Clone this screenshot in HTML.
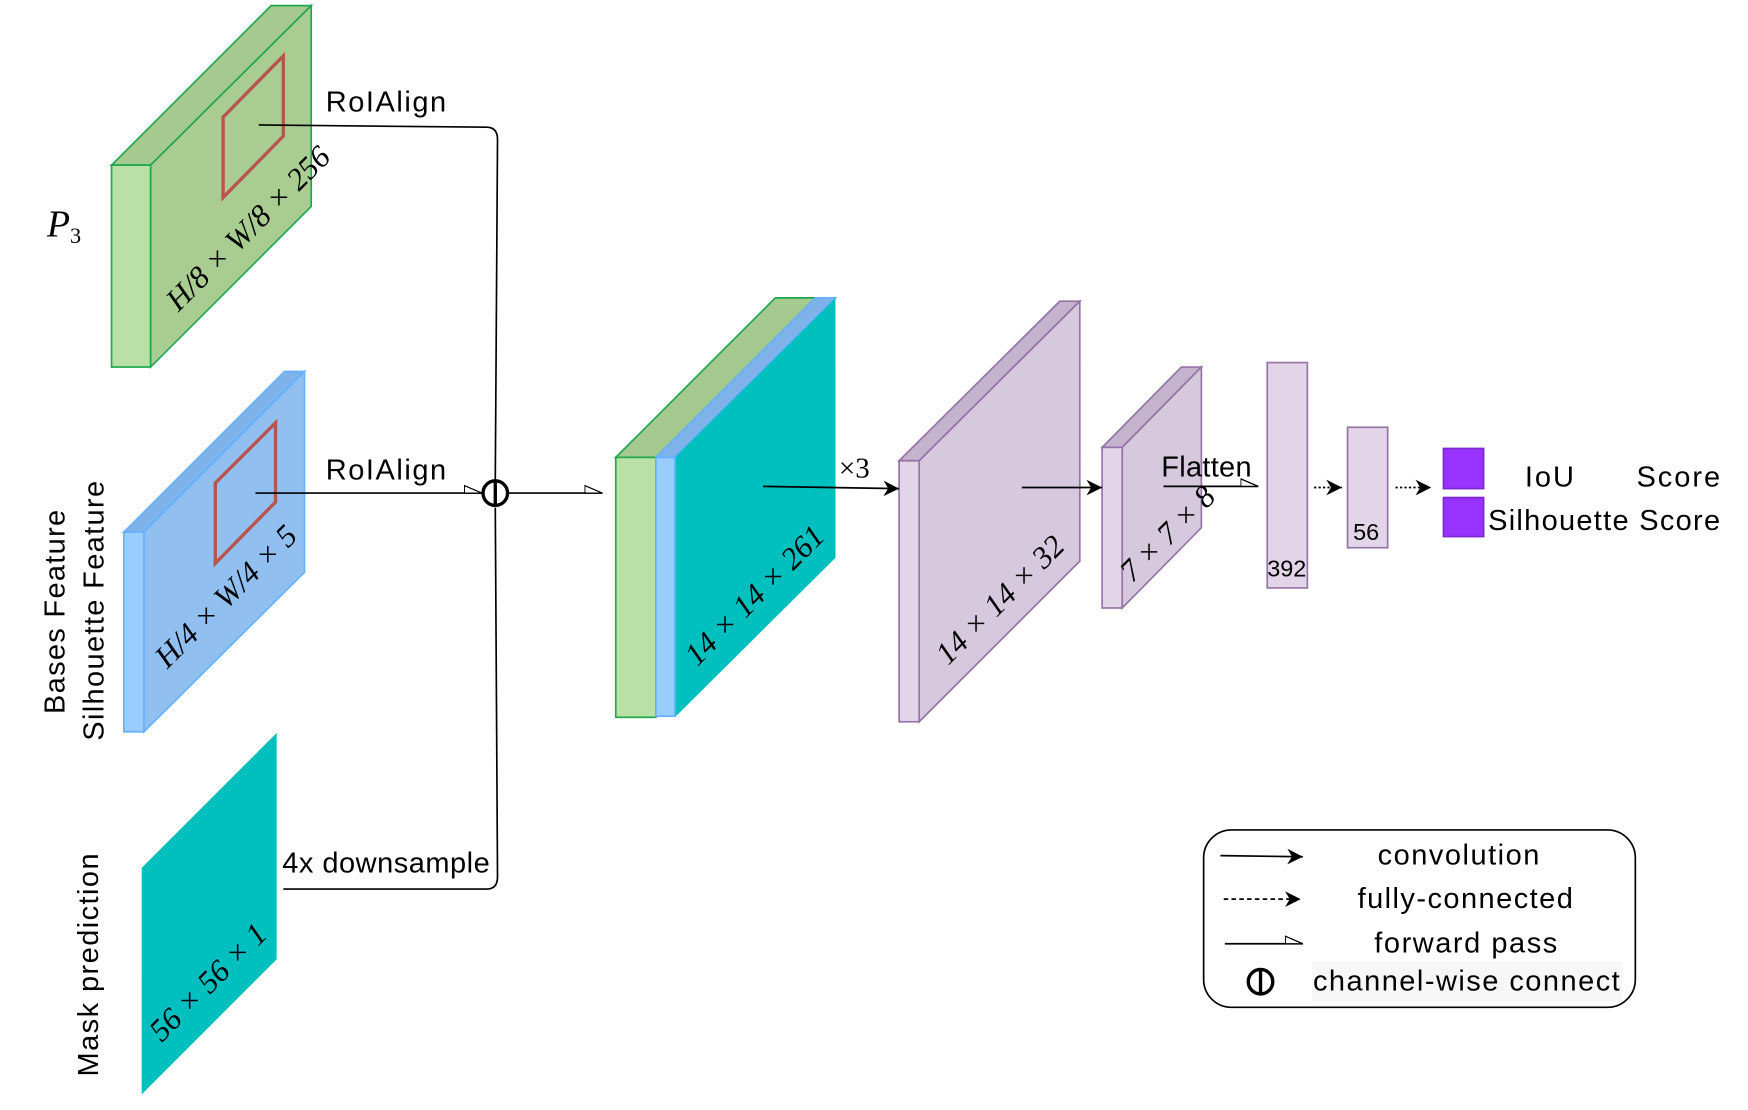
<!DOCTYPE html>
<html><head><meta charset="utf-8"><style>html,body{margin:0;padding:0;background:#fff}svg{display:block}</style></head><body>
<svg width="1748" height="1110" viewBox="0 0 1567 995" xmlns="http://www.w3.org/2000/svg" font-family="Liberation Sans, sans-serif">
<defs>
<marker id="fa" viewBox="0 0 10 10" refX="10" refY="5" markerWidth="14" markerHeight="14" orient="auto" markerUnits="userSpaceOnUse"><path d="M0,0 L10,5 L0,10 L3,5 z" fill="#000"/></marker>
<marker id="oa" viewBox="0 0 14 8" refX="14" refY="7" markerWidth="16" markerHeight="9" orient="auto" markerUnits="userSpaceOnUse"><path d="M0,1 L14,7 L0,7 z" fill="#fff" stroke="#000" stroke-width="1"/></marker>
</defs>
<g stroke-width="1.5">
<polygon points="100,148 243,5 279,5 135,148" fill="#a5c98f" stroke="#1fa84f"/>
<polygon points="135,148 279,5 279,185 135,329" fill="#a9cd91" stroke="#1fa84f"/>
<rect x="100" y="148" width="35" height="181" fill="#b9e0a5" stroke="#1fa84f"/>
<polygon points="200,105 254,50 254,122 200,177" fill="none" stroke="#b85450" stroke-width="3"/>
<polygon points="111,477 255,333 273,333 129,477" fill="#7fb2e8" stroke="#66b2ff"/>
<polygon points="129,477 273,333 273,513 129,656" fill="#90bff0" stroke="#66b2ff"/>
<rect x="111" y="477" width="18" height="179" fill="#99ccff" stroke="#66b2ff"/>
<polygon points="193,433 247,379 247,450 193,505" fill="none" stroke="#b85450" stroke-width="3"/>
<polygon points="127,778 248,657 248,860 127,981" fill="#00bfbf"/>
<polygon points="552,410 695,267 731,267 588,410" fill="#a5c98f" stroke="#1fa84f"/>
<polygon points="588,410 731,267 749,267 605,410" fill="#7fb2e8" stroke="#66b2ff"/>
<polygon points="605,410 749,267 749,500 605,643" fill="#00bfbf"/>
<rect x="552" y="410" width="36" height="233" fill="#b9e0a5" stroke="#1fa84f"/>
<rect x="588" y="410" width="17" height="232" fill="#99ccff" stroke="#66b2ff"/>
<polygon points="806,413 950,270 968,270 824,413" fill="#c3b3cc" stroke="#9673a6"/>
<polygon points="824,413 968,270 968,503 824,647" fill="#d7c9dd" stroke="#9673a6"/>
<rect x="806" y="413" width="18" height="234" fill="#e1d5e7" stroke="#9673a6"/>
<polygon points="988,401 1059,329 1077,329 1006,401" fill="#c3b3cc" stroke="#9673a6"/>
<polygon points="1006,401 1077,329 1077,473 1006,545" fill="#d7c9dd" stroke="#9673a6"/>
<rect x="988" y="401" width="18" height="144" fill="#e1d5e7" stroke="#9673a6"/>
<rect x="1136" y="325" width="36" height="202" fill="#e1d5e7" stroke="#9673a6"/>
<rect x="1208" y="383" width="36" height="108" fill="#e1d5e7" stroke="#9673a6"/>
<rect x="1294" y="402" width="36" height="36" fill="#9933ff" stroke="#7a29cc"/>
<rect x="1294" y="446" width="36" height="35" fill="#9933ff" stroke="#7a29cc"/>
</g>
<g fill="none" stroke="#000" stroke-width="1.5">
<path d="M232,112 L436,114 Q446,114 446,125 L444,430"/>
<path d="M254,797 L436,797 Q446,797 446,786 L444,455"/>
<path d="M229,442 L432,442" marker-end="url(#oa)"/>
<path d="M456,442 L540,442" marker-end="url(#oa)"/>
<circle cx="444" cy="442" r="11" stroke-width="3"/>
<line x1="444" y1="431" x2="444" y2="453" stroke-width="3"/>
<path d="M684,436 L806,438" marker-end="url(#fa)"/>
<path d="M916,437 L988,437" marker-end="url(#fa)"/>
<path d="M1043,436 L1128,436" marker-end="url(#oa)"/>
<path d="M1178,437 L1203,437" stroke-dasharray="2,2" marker-end="url(#fa)"/>
<path d="M1251,437 L1283,437" stroke-dasharray="2,2" marker-end="url(#fa)"/>
</g>
<g font-size="26" fill="#000">
<text x="292" y="100" textLength="108">RoIAlign</text>
<text x="292" y="430" textLength="108">RoIAlign</text>
<text x="253" y="782" textLength="186">4x downsample</text>
<text x="1041" y="427" textLength="81">Flatten</text>
<text x="1367" y="436" textLength="44">IoU</text>
<text x="1467" y="436" textLength="75">Score</text>
<text x="1334" y="475" textLength="208">Silhouette Score</text>
<text font-size="21" x="1136" y="517">392</text>
<text font-size="21" x="1213" y="484">56</text>
<text transform="translate(58,640) rotate(-90)" textLength="183">Bases Feature</text>
<text transform="translate(93,664) rotate(-90)" textLength="233">Silhouette Feature</text>
<text transform="translate(88,965) rotate(-90)" textLength="200">Mask prediction</text>
</g>
<g font-family="Liberation Serif, serif" font-style="italic" font-size="26" fill="#000">
<text x="42" y="212" font-size="34">P<tspan font-size="20" font-style="normal" dy="6">3</tspan></text>
<text font-style="normal" x="752" y="428" font-size="26">×3</text>
<text transform="translate(160,280) rotate(-45)" font-size="28">H/8 × W/8 × 256</text>
<text transform="translate(150,600) rotate(-45)" font-size="28">H/4 × W/4 × 5</text>
<text transform="translate(145,935) rotate(-45)" font-size="28">56 × 56 × 1</text>
<text transform="translate(625,598) rotate(-45)" font-size="28">14 × 14 × 261</text>
<text transform="translate(850,597) rotate(-45)" font-size="28">14 × 14 × 32</text>
<text transform="translate(1015,523) rotate(-45)" font-size="28">7 × 7 × 8</text>
</g>
<rect x="1079" y="744" width="387" height="159" rx="25" fill="none" stroke="#000" stroke-width="1.5"/>
<g fill="none" stroke="#000" stroke-width="1.5">
<path d="M1094,767 L1168,768" marker-end="url(#fa)"/>
<path d="M1097,806 L1166,806" stroke-dasharray="4,3" marker-end="url(#fa)"/>
<path d="M1098,846 L1168,846" marker-end="url(#oa)"/>
<circle cx="1130" cy="880" r="11" stroke-width="3"/>
<line x1="1130" y1="869" x2="1130" y2="891" stroke-width="3"/>
</g>
<rect x="1176" y="862" width="278" height="36" fill="#f7f7f7"/>
<g font-size="26" fill="#000">
<text x="1235" y="775" textLength="145">convolution</text>
<text x="1217" y="814" textLength="193">fully-connected</text>
<text x="1232" y="854" textLength="164">forward pass</text>
<text x="1177" y="888" textLength="275">channel-wise connect</text>
</g>
</svg>
</body></html>
